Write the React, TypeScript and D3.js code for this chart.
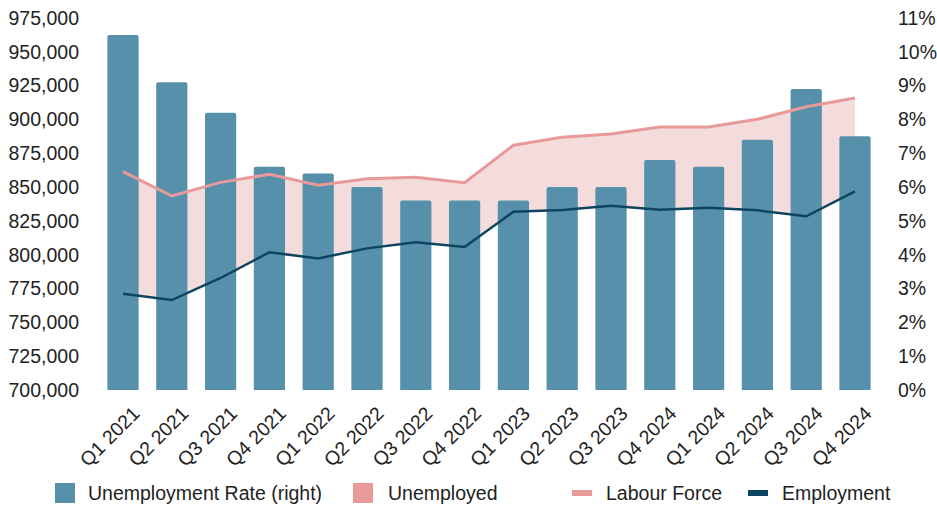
import * as d3 from "d3";
import { useEffect, useRef } from "react";

// Quarter labels as printed in the source (note the duplicated "Q4 2024").
const quarters = [
  "Q1 2021", "Q2 2021", "Q3 2021", "Q4 2021",
  "Q1 2022", "Q2 2022", "Q3 2022", "Q4 2022",
  "Q1 2023", "Q2 2023", "Q3 2023", "Q4 2024",
  "Q1 2024", "Q2 2024", "Q3 2024", "Q4 2024",
];

// Unemployment rate (right axis, percent)
const unemploymentRate = [10.5, 9.1, 8.2, 6.6, 6.4, 6.0, 5.6, 5.6, 5.6, 6.0, 6.0, 6.8, 6.6, 7.4, 8.9, 7.5];

// Labour force and employment (left axis, persons)
const labourForce = [861400, 843400, 853500, 859400, 851300, 856200, 857200, 853200, 880900, 886800, 889200, 894400, 894400, 900100, 909400, 915800];
const employment = [771200, 766500, 782800, 801800, 797300, 804700, 809200, 805700, 831800, 833100, 836200, 833300, 834800, 832800, 828400, 846900];

const leftTicks = d3.range(700000, 975001, 25000);
const rightTicks = d3.range(0, 12, 1);

const W = 937;
const H = 508;
const FONT = "'Liberation Sans', Arial, sans-serif";
const FS = 19.5;
const BAR = "#5790ab";
const AREA = "#f4dcdc";
const LF = "#e89a9a";
const EMP = "#0d4560";

const App = () => {
  const ref = useRef<SVGSVGElement>(null);

  useEffect(() => {
    if (!ref.current) return;
    const svg = d3.select(ref.current);
    svg.selectAll("*").remove();

    const top = 18;
    const bottom = 390;

    const x = d3
      .scaleBand<number>()
      .domain(quarters.map((_, i) => i))
      .range([98.6, 879.4])
      .paddingInner(0.36)
      .paddingOuter(0.18);
    const yL = d3.scaleLinear().domain([700000, 975000]).range([bottom, top]);
    const yR = d3.scaleLinear().domain([0, 11]).range([bottom, top]);
    const cx = (i: number) => (x(i) as number) + x.bandwidth() / 2;

    const g = svg.append("g");

    // Unemployed = gap between labour force and employment
    const area = d3
      .area<number>()
      .x((_, i) => cx(i))
      .y0((_, i) => yL(employment[i]))
      .y1((d) => yL(d));
    g.append("path").datum(labourForce).attr("d", area).attr("fill", AREA);

    // Bars on top of the area
    g.append("g")
      .selectAll("path")
      .data(unemploymentRate)
      .join("path")
      .attr("fill", BAR)
      .attr("d", (d, i) => {
        const x0 = x(i) as number;
        const w = x.bandwidth();
        const y0 = yR(d);
        const r = 2;
        return `M${x0},${bottom}V${y0 + r}Q${x0},${y0} ${x0 + r},${y0}H${x0 + w - r}Q${x0 + w},${y0} ${x0 + w},${y0 + r}V${bottom}Z`;
      });

    const line = d3
      .line<number>()
      .x((_, i) => cx(i))
      .y((d) => yL(d));

    g.append("path")
      .datum(labourForce)
      .attr("d", line)
      .attr("fill", "none")
      .attr("stroke", LF)
      .attr("stroke-width", 3);

    g.append("path")
      .datum(employment)
      .attr("d", line)
      .attr("fill", "none")
      .attr("stroke", EMP)
      .attr("stroke-width", 2.5);

    // Left axis labels
    const fmt = d3.format(",");
    svg
      .append("g")
      .selectAll("text")
      .data(leftTicks)
      .join("text")
      .attr("x", 79)
      .attr("y", (d) => yL(d))
      .attr("dy", "0.35em")
      .attr("text-anchor", "end")
      .attr("font-family", FONT)
      .attr("font-size", FS)
      .attr("fill", "#222")
      .text((d) => fmt(d));

    // Right axis labels
    svg
      .append("g")
      .selectAll("text")
      .data(rightTicks)
      .join("text")
      .attr("x", 898)
      .attr("y", (d) => yR(d))
      .attr("dy", "0.35em")
      .attr("text-anchor", "start")
      .attr("font-family", FONT)
      .attr("font-size", FS)
      .attr("fill", "#222")
      .text((d) => `${d}%`);

    // Category labels, rotated
    svg
      .append("g")
      .selectAll("text")
      .data(quarters)
      .join("text")
      .attr("transform", (_, i) => `translate(${cx(i) + 13},${bottom + 20}) rotate(-45)`)
      .attr("dy", "0.35em")
      .attr("text-anchor", "end")
      .attr("font-family", FONT)
      .attr("font-size", FS)
      .attr("fill", "#222")
      .text((d) => d);

    // Legend
    const legend = svg.append("g").attr("font-family", FONT).attr("font-size", FS).attr("fill", "#222");
    const ly = 493;
    const items = [
      { label: "Unemployment Rate (right)", kind: "box", color: BAR, x: 55, tx: 88 },
      { label: "Unemployed", kind: "box", color: "#e89a9a", x: 353, tx: 388 },
      { label: "Labour Force", kind: "line", color: LF, x: 572, tx: 606 },
      { label: "Employment", kind: "line", color: EMP, x: 748, tx: 782 },
    ];
    items.forEach((it) => {
      if (it.kind === "box") {
        legend.append("rect").attr("x", it.x).attr("y", ly - 10).attr("width", 20).attr("height", 20).attr("fill", it.color);
      } else {
        legend.append("rect").attr("x", it.x).attr("y", ly - 3).attr("width", 20).attr("height", 6).attr("fill", it.color);
      }
      legend.append("text").attr("x", it.tx).attr("y", ly).attr("dy", "0.35em").text(it.label);
    });
  }, []);

  return (
    <svg
      ref={ref}
      width={W}
      height={H}
      style={{ position: "absolute", left: 0, top: 0, background: "#fff" }}
    />
  );
};

export default App;
